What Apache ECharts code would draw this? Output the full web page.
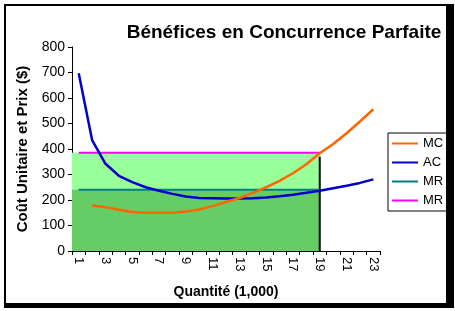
<!DOCTYPE html>
<html>
<head>
<meta charset="utf-8">
<script src="https://cdn.jsdelivr.net/npm/echarts@6/dist/echarts.min.js"></script>
<style>
  html, body { margin: 0; padding: 0; background: #fff; }
  #main { width: 455px; height: 311px; }
</style>
</head>
<body>
<div id="main"></div>
<script>
// quantities (1,000)
let quantities = ['1','2','3','4','5','6','7','8','9','10','11','12','13','14','15','16','17','18','19','20','21','22','23'];
// marginal cost, starts at q=2
let mc = [null, 178, 172, 162, 153, 150, 150, 150, 155, 163, 176, 192, 208, 228, 250, 275, 305, 340, 383, 420, 462, 508, 556];
// average cost
let ac = [697, 435, 342, 295, 270, 250, 236, 224, 214, 208, 207, 206, 206, 207, 210, 215, 221, 228, 236, 246, 256, 267, 281];
let price = 385;      // MR (pink)
let mrLow = 240;      // MR (teal)
let profitQ = 19;     // quantity where MC = MR
let mcAtQ = 370;      // top of the vertical marker
let yTicks = [0, 100, 200, 300, 400, 500, 600, 700, 800];

let flat = function (v) {
    return quantities.map(function (q, i) { return i < profitQ ? v : null; });
};

let font = 'Arial, "Liberation Sans", sans-serif';
let myChart = echarts.init(document.getElementById('main'));

let option = {
    animation: false,
    graphic: [
        { type: 'rect', shape: { x: 5, y: 5, width: 442, height: 299 }, style: { fill: 'none', stroke: '#000', lineWidth: 2 }, z: 100 },
        { type: 'rect', shape: { x: 446, y: 4, width: 8, height: 304 }, style: { fill: '#000' }, z: 100 },
        { type: 'rect', shape: { x: 4, y: 303, width: 450, height: 5 }, style: { fill: '#000' }, z: 100 },
        { type: 'text', x: 284, y: 33, style: { text: 'Bénéfices en Concurrence Parfaite', font: 'bold 19px ' + font, fill: '#000', textAlign: 'center', textVerticalAlign: 'middle' }, z: 100 }
    ],
    grid: { left: 72, top: 47, right: 75, bottom: 60 },
    legend: {
        left: 388, top: 133,
        orient: 'vertical',
        data: ['MC', 'AC', 'MR', 'MR '],
        icon: 'rect',
        itemWidth: 26, itemHeight: 2,
        itemGap: 6,
        padding: [4, 3, 4, 4],
        borderColor: '#000', borderWidth: 1,
        textStyle: { fontFamily: font, fontSize: 13, color: '#000' },
        selectedMode: false
    },
    xAxis: [
        {
            type: 'category',
            data: quantities,
            boundaryGap: true,
            name: 'Quantité (1,000)',
            nameLocation: 'middle',
            nameGap: 34,
            nameTextStyle: { fontFamily: font, fontSize: 14, fontWeight: 'bold', color: '#000' },
            axisLine: { lineStyle: { color: '#000', width: 1 } },
            axisTick: { show: true, interval: 0, length: 4, alignWithLabel: false, lineStyle: { color: '#000' } },
            axisLabel: { interval: 1, rotate: -90, margin: 6, fontFamily: font, fontSize: 13, color: '#000' },
            splitLine: { show: false }
        },
        {
            type: 'value',
            min: 0.5, max: quantities.length + 0.5,
            show: false
        }
    ],
    yAxis: {
        type: 'value',
        min: yTicks[0], max: yTicks[yTicks.length - 1], interval: 100,
        name: 'Coût Unitaire et Prix ($)',
        nameLocation: 'middle',
        nameGap: 40,
        nameTextStyle: { fontFamily: font, fontSize: 15, fontWeight: 'bold', color: '#000' },
        axisLine: { show: true, lineStyle: { color: '#000', width: 1 } },
        axisTick: { show: true, length: 4, lineStyle: { color: '#000' } },
        axisLabel: { margin: 7, fontFamily: font, fontSize: 14, color: '#000' },
        splitLine: { show: false }
    },
    series: [
        {
            name: 'revenue', type: 'line', xAxisIndex: 1,
            data: [[0.5, price], [profitQ, price]],
            showSymbol: false, lineStyle: { width: 0 },
            areaStyle: { color: '#99FF99', opacity: 1 }, z: 1, silent: true
        },
        {
            name: 'cost', type: 'line', xAxisIndex: 1,
            data: [[0.5, mrLow], [profitQ, mrLow]],
            showSymbol: false, lineStyle: { width: 0 },
            areaStyle: { color: '#66CC66', opacity: 1 }, z: 2, silent: true
        },
        {
            name: 'marker', type: 'line', xAxisIndex: 1,
            data: [[profitQ, 0], [profitQ, mcAtQ]],
            showSymbol: false, lineStyle: { width: 2, color: '#000' }, z: 3, silent: true
        },
        {
            name: 'MR', type: 'line', data: flat(mrLow),
            showSymbol: false, itemStyle: { color: '#008080' }, lineStyle: { width: 2, color: '#008080' }, z: 4
        },
        {
            name: 'MR ', type: 'line', data: flat(price),
            showSymbol: false, itemStyle: { color: '#FF00FF' }, lineStyle: { width: 2, color: '#FF00FF' }, z: 4
        },
        {
            name: 'AC', type: 'line', data: ac,
            showSymbol: false, itemStyle: { color: '#0000CC' }, lineStyle: { width: 2.5, color: '#0000CC' }, z: 5
        },
        {
            name: 'MC', type: 'line', data: mc,
            showSymbol: false, itemStyle: { color: '#FF6600' }, lineStyle: { width: 2.5, color: '#FF6600' }, z: 6
        }
    ]
};
myChart.setOption(option);
</script>
</body>
</html>
